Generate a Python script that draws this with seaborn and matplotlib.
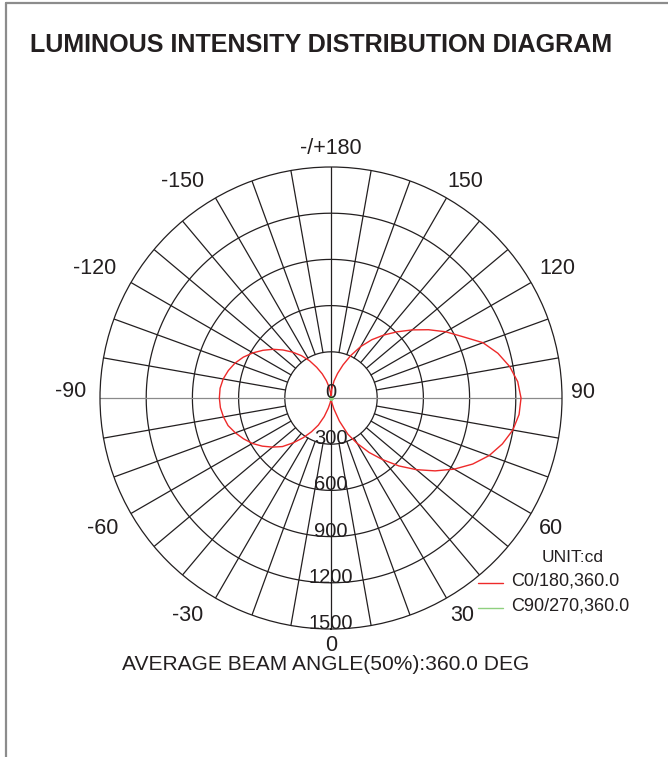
import matplotlib.pyplot as plt
import matplotlib.transforms as mtransforms
from matplotlib.lines import Line2D
import numpy as np
import pandas as pd
import seaborn as sns

# plano C0/180, candela lida a cada 5 graus (0 = nadir, +90 = lado direito)
angulos_c0 = list(range(-180, 185, 5))
intensidade_c0 = [
    0, 35, 72, 117, 167, 220, 280, 336, 389, 441, 492, 540, 586, 628, 663, 690, 711, 723,
    725, 721, 709, 692, 661, 627, 590, 545, 496, 446, 379, 315, 253, 194, 128, 68, 32, 12,
    0,
    10, 30, 75, 160, 260, 341, 432, 523, 624, 724, 825, 924, 1015, 1093, 1152, 1199, 1226,
    1234, 1217, 1178, 1122, 1050, 943, 860, 773, 688, 608, 534, 462, 386, 305, 229, 165, 112, 55, 0,
]

# plano C90/270 (só aparece como um ponto no centro)
angulos_c90 = [-180, -90, 0, 90, 180]
intensidade_c90 = [0, 0, 0, 0, 0]

aneis = [300, 600, 900, 1200, 1500]
rotulos_angulo = [-150, -120, -90, -60, -30, 0, 30, 60, 90, 120, 150, 180]

cor_texto = "#231f20"
cor_c0 = "#ee2a2a"
cor_c90 = "#8fd07f"

sns.set_style("white")
plt.rcParams["font.family"] = ["Liberation Sans", "DejaVu Sans"]

df = pd.concat([
    pd.DataFrame({"theta": np.deg2rad(angulos_c0), "cd": intensidade_c0, "curva": "C0/180"}),
    pd.DataFrame({"theta": np.deg2rad(angulos_c90), "cd": intensidade_c90, "curva": "C90/270"}),
])

fig = plt.figure(figsize=(6.68, 7.57), dpi=100)
ax = fig.add_axes([100 / 668, 128 / 757, 462 / 668, 462 / 757], projection="polar")
ax.set_theta_zero_location("S")
ax.set_theta_direction(1)
ax.set_ylim(0, aneis[-1])
ax.set_xticks([])
ax.set_yticks([])
ax.grid(False)
ax.spines["polar"].set_color("#231f20")
ax.spines["polar"].set_linewidth(0.9)

# grade: aneis e raios de 10 em 10 graus
volta = np.linspace(0, 2 * np.pi, 361)
for r in aneis[:-1]:
    ax.plot(volta, np.full_like(volta, r), color="#231f20", lw=0.9, zorder=1)
for a in range(0, 360, 10):
    inicio = 0 if a % 90 == 0 else aneis[0]
    cor = "#8a8a8a" if a in (90, 270) else "#231f20"
    ax.plot([np.deg2rad(a)] * 2, [inicio, aneis[-1]], color=cor, lw=0.9, zorder=1)

sns.lineplot(
    data=df[df["curva"] == "C0/180"], x="theta", y="cd", color=cor_c0,
    sort=False, estimator=None, lw=1.0, ax=ax, legend=False, zorder=3,
)
sns.lineplot(
    data=df[df["curva"] == "C90/270"], x="theta", y="cd", color=cor_c90,
    sort=False, estimator=None, lw=1.0, marker="o", markersize=3, markeredgewidth=0,
    ax=ax, legend=False, zorder=4,
)
ax.set_xlabel("")
ax.set_ylabel("")

# pequenos ajustes (px) para os rótulos de ângulo ficarem como no original
ajuste = {
    -150: (-22, -2), -120: (-18, 4), -90: (-8, 6), -60: (-10, -5), -30: (-17, 1),
    0: (0, 4), 30: (5, 1), 60: (2, -5), 90: (0, 6), 120: (8, 4), 150: (8, -2), 180: (0, -2),
}
for a in rotulos_angulo:
    texto = "-/+180" if a == 180 else str(a)
    dx, dy = ajuste[a]
    trans = mtransforms.offset_copy(ax.transData, fig=fig, x=dx, y=dy, units="dots")
    ax.text(np.deg2rad(a), 1636, texto, ha="center", va="center",
            fontsize=15.5, color=cor_texto, transform=trans)

for v in [0] + aneis:
    ax.text(0, v, str(v), ha="center", va="baseline", fontsize=14.5,
            color=cor_texto, zorder=5)

fig.text(30 / 668, 1 - 52 / 757, "LUMINOUS INTENSITY DISTRIBUTION DIAGRAM",
         ha="left", va="baseline", fontsize=18.1, fontweight="bold", color=cor_texto)
fig.text(325.5 / 668, 1 - 665 / 757, "AVERAGE BEAM ANGLE(50%):360.0 DEG",
         ha="center", va="center", fontsize=15.1, color=cor_texto)

# legenda manual
fig.text(573 / 668, 1 - 557 / 757, "UNIT:cd", ha="center", va="center",
         fontsize=12.5, color=cor_texto)
for y, cor, nome in [(583, cor_c0, "C0/180,360.0"), (608, cor_c90, "C90/270,360.0")]:
    fig.add_artist(Line2D([478 / 668, 503 / 668], [1 - y / 757] * 2, color=cor, lw=1.0))
    fig.text(511 / 668, 1 - (y - 2) / 757, nome, ha="left", va="center",
             fontsize=13, color=cor_texto)

# moldura cinza (topo e esquerda)
fig.add_artist(Line2D([6 / 668, 1], [1 - 2.5 / 757] * 2, color="#8c8c8c", lw=1.6))
fig.add_artist(Line2D([6 / 668] * 2, [0, 1 - 2.5 / 757], color="#8c8c8c", lw=1.6))

fig.savefig("out.png", dpi=100)
